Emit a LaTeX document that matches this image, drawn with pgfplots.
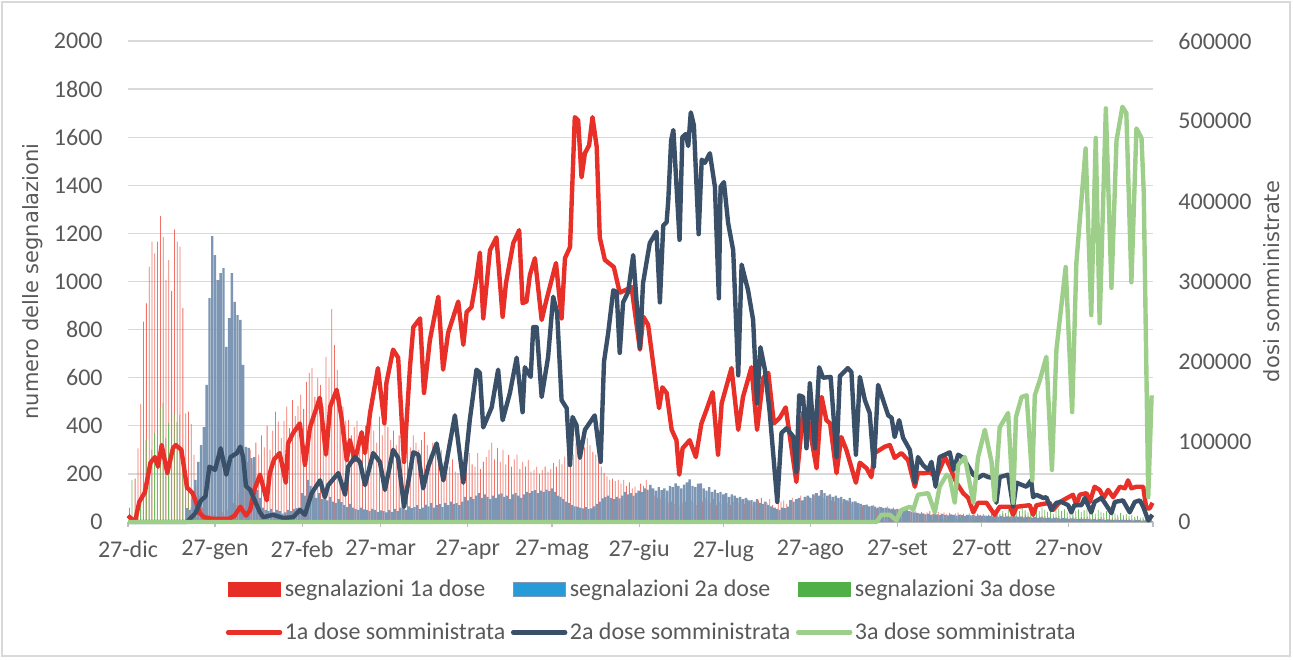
\documentclass[border=0pt]{standalone}
\usepackage{fontspec}
\setmainfont{Carlito}
\newfontfamily\labfont{DejaVu Sans}
\usepackage{pgfplots}
\usepackage{pgfplotstable}
\pgfplotsset{compat=1.18}

\definecolor{txt}{RGB}{89,89,89}
\definecolor{gridc}{RGB}{217,217,217}
\definecolor{axc}{RGB}{191,191,191}
\definecolor{lred}{RGB}{232,48,40}
\definecolor{lnavy}{RGB}{58,80,104}
\definecolor{lgreen}{RGB}{157,207,138}
\definecolor{bred}{RGB}{240,112,102}
\definecolor{bblue}{RGB}{124,150,180}
\definecolor{bgreen}{RGB}{112,186,96}
\definecolor{legred}{RGB}{230,45,38}
\definecolor{legblue}{RGB}{38,155,215}
\definecolor{leggreen}{RGB}{80,175,70}

% segnalazioni giornaliere: d = giorni dal 27-dic
\pgfplotstableread{
d r b g
0 250 0 0
1 60 0 175
2 20 0 40
3 180 0 0
4 306 0 100
5 491 0 160
6 833 0 341
7 909 0 250
8 1062 0 300
9 1166 0 370
10 1117 0 300
11 1166 0 474
12 1272 0 495
13 1186 0 350
14 1006 0 412
15 1089 0 330
16 960 0 453
17 1217 0 416
18 1166 0 445
19 1145 0 300
20 889 0 160
21 452 58 120
22 459 50 60
23 407 100 30
24 279 175 20
25 150 250 10
26 110 320 0
27 60 395 0
28 40 570 0
29 30 931 0
30 25 1189 0
31 30 1110 0
32 20 1006 0
33 35 1035 0
34 40 1056 0
35 30 728 0
36 50 848 0
37 60 1035 0
38 80 915 0
39 70 860 0
40 120 840 0
41 160 653 0
42 210 312 0
43 250 308 0
44 300 266 0
45 240 270 0
46 330 133 0
47 280 100 0
48 360 60 0
49 310 50 0
50 400 45 0
51 300 55 0
52 380 40 0
53 459 50 0
54 417 45 0
55 350 35 0
56 420 40 0
57 480 50 0
58 390 45 0
59 507 55 0
60 440 58 0
61 482 60 0
62 530 120 0
63 470 110 0
64 583 175 0
65 620 150 0
66 640 130 0
67 520 100 0
68 599 120 0
69 570 95 0
70 480 100 0
71 687 90 0
72 600 105 0
73 885 85 0
74 736 80 0
75 632 95 0
76 520 83 0
77 480 70 0
78 420 62 0
79 424 75 0
80 360 60 0
81 395 55 0
82 420 50 0
83 340 60 0
84 374 52 0
85 400 50 0
86 350 45 0
87 420 55 0
88 380 50 0
89 330 42 0
90 438 48 0
91 360 45 0
92 400 40 0
93 395 50 0
94 340 42 0
95 380 55 0
96 320 45 0
97 360 60 0
98 300 62 0
99 341 50 0
100 380 65 0
101 310 58 0
102 360 62 0
103 330 70 0
104 300 55 0
105 340 60 0
106 374 72 0
107 320 65 0
108 280 80 0
109 330 60 0
110 313 70 0
111 270 75 0
112 300 62 0
113 250 80 0
114 280 70 0
115 230 85 0
116 260 75 0
117 210 78 0
118 204 70 0
119 250 85 0
120 220 104 0
121 260 90 0
122 286 105 0
123 240 95 0
124 230 110 0
125 286 120 0
126 220 100 0
127 251 115 0
128 270 105 0
129 300 95 0
130 330 110 0
131 260 100 0
132 308 115 0
133 250 119 0
134 300 105 0
135 240 110 0
136 279 95 0
137 230 115 0
138 260 120 0
139 280 110 0
140 220 100 0
141 250 115 0
142 230 125 0
143 258 120 0
144 210 128 0
145 216 133 0
146 230 120 0
147 200 130 0
148 216 125 0
149 230 135 0
150 210 128 0
151 220 140 0
152 245 125 0
153 230 110 0
154 260 105 0
155 240 95 0
156 272 85 0
157 290 80 0
158 313 71 0
159 280 65 0
160 328 64 0
161 300 60 0
162 340 57 0
163 310 62 0
164 349 55 0
165 320 57 0
166 292 65 0
167 280 75 0
168 250 85 0
169 230 98 0
170 204 105 0
171 190 110 0
172 175 100 0
173 180 95 0
174 170 105 0
175 175 98 0
176 160 110 0
177 175 125 0
178 150 115 0
179 165 120 0
180 140 110 0
181 147 120 0
182 130 130 0
183 160 125 0
184 150 140 0
185 175 135 0
186 130 154 0
187 120 140 0
188 110 130 0
189 100 145 0
190 95 133 0
191 90 140 0
192 100 130 0
193 80 150 0
194 85 145 0
195 75 161 0
196 90 150 0
197 70 140 0
198 80 155 0
199 85 165 0
200 75 177 0
201 90 150 0
202 80 145 0
203 70 160 0
204 95 161 0
205 85 140 0
206 100 130 0
207 90 145 0
208 80 125 0
209 95 135 0
210 70 120 0
211 85 125 0
212 75 115 0
213 90 120 0
214 80 105 0
215 70 115 0
216 85 110 0
217 60 100 0
218 80 105 0
219 90 95 0
220 75 100 0
221 95 90 0
222 85 91 0
223 70 85 0
224 80 95 0
225 90 80 0
226 100 75 0
227 85 85 0
228 80 71 0
229 95 65 0
230 70 60 0
231 60 55 0
232 80 50 0
233 85 60 0
234 90 58 0
235 75 64 0
236 91 91 0
237 100 85 0
238 85 95 0
239 95 100 0
240 110 90 0
241 90 105 0
242 100 110 0
243 105 100 0
244 85 115 0
245 110 120 0
246 120 110 0
247 133 133 0
248 100 120 0
249 95 110 0
250 110 115 0
251 90 105 0
252 85 110 0
253 100 100 0
254 95 105 0
255 80 95 0
256 90 90 0
257 85 100 0
258 75 85 0
259 80 86 0
260 70 80 0
261 75 75 0
262 65 70 0
263 70 72 0
264 60 65 0
265 65 68 0
266 70 64 0
267 55 60 0
268 65 62 0
269 60 58 0
270 55 60 0
271 65 57 0
272 50 55 0
273 60 52 0
274 55 55 0
275 50 50 0
276 45 52 0
277 55 50 0
278 50 45 0
279 45 42 0
280 40 40 0
281 45 38 0
282 38 35 0
283 42 36 0
284 35 32 0
285 40 35 5
286 45 30 8
287 35 34 6
288 38 32 10
289 42 29 8
290 36 33 12
291 40 30 10
292 34 28 14
293 38 32 9
294 30 30 15
295 36 27 12
296 40 31 18
297 32 29 14
298 35 26 20
299 30 30 16
300 36 28 22
301 28 29 15
302 32 26 25
303 35 28 20
304 30 25 28
305 34 27 22
306 28 24 30
307 30 26 35
308 26 23 25
309 32 25 40
310 30 22 32
311 28 24 45
312 34 21 38
313 30 23 50
314 26 22 42
315 28 20 30
316 30 23 55
317 25 21 45
318 28 22 58
319 24 19 48
320 30 21 40
321 26 20 52
322 22 18 30
323 28 20 55
324 25 17 45
325 22 19 58
326 26 18 50
327 24 16 42
328 20 18 55
329 25 15 35
330 22 17 48
331 20 16 56
332 24 14 45
333 18 16 52
334 22 15 40
335 20 13 50
336 18 15 38
337 22 14 45
338 20 12 52
339 16 14 42
340 20 13 48
341 18 12 55
342 22 13 40
343 16 11 46
344 20 12 35
345 18 10 50
346 15 12 42
347 20 11 38
348 17 9 45
349 15 11 32
350 18 10 40
351 16 9 36
352 14 10 30
353 18 8 38
354 15 10 28
355 13 9 33
356 16 8 25
357 14 9 30
358 12 7 22
359 15 8 26
360 12 8 18
361 10 6 20
362 12 7 15
363 8 5 10
364 10 6 12
365 5 3 5
}\bars

\pgfplotsset{
  base/.style={scale only axis, width=512.5pt, height=240.5pt,
    xmin=0, xmax=365, font=\fontsize{12}{14}\selectfont,
    axis line style={-}, tick align=outside, major tick length=2.5pt,
    /pgf/number format/assume math mode=true,
    /pgf/number format/set thousands separator={},
    ytick style={draw=none}, y axis line style={draw=none},
    every axis plot/.append style={line join=round}},
  linelegend/.style={legend image code/.code={\draw[##1, line cap=round] (0pt,0pt) -- (26pt,0pt);}},
  barlegred/.style={legend image code/.code={\fill[legred] (0pt,-3.5pt) rectangle (26pt,3.5pt);}},
  barlegblue/.style={legend image code/.code={\filldraw[fill=legblue, draw=bblue, line width=0.6pt] (0pt,-3.5pt) rectangle (26pt,3.5pt);}},
  barleggreen/.style={legend image code/.code={\fill[leggreen] (0pt,-3.5pt) rectangle (26pt,3.5pt);}},
}

\begin{document}
\begin{tikzpicture}
\useasboundingbox (-64pt,-68.5pt) rectangle (582.5pt,261pt);

% barre: segnalazioni (asse sinistro)
\begin{axis}[base, ymin=0, ymax=2000, ytick={0,200,...,2000},
  axis x line*=bottom, axis y line*=left,
  ymajorgrids, grid style={gridc, line width=0.6pt},
  xtick={0,31,62,90,121,151,182,212,243,274,304,335,365},
  xticklabels={27-dic,27-gen,27-feb,27-mar,27-apr,27-mag,27-giu,27-lug,27-ago,27-set,27-ott,27-nov,},
  xtick style={axc, line width=0.6pt},
  x axis line style={axc, line width=0.6pt},
  xticklabel style={inner sep=0pt, yshift=-6.5pt, text=txt},
  yticklabel style={inner sep=0pt, xshift=-10pt, text=txt},
  ylabel={numero delle segnalazioni},
  ylabel style={font=\labfont\fontsize{10.5}{12}\selectfont, text=txt,
    at={(axis description cs:-0.0927,0.5)}, anchor=center}]
\addplot[ybar, bar width=0.28, bar shift=-0.46, fill=bred, draw=none] table[x=d, y=r] {\bars};
\addplot[ybar, bar width=0.28, bar shift=0.46, fill=bgreen, draw=none] table[x=d, y=g] {\bars};
\addplot[ybar, bar width=0.84, bar shift=0, fill=bblue, draw=none] table[x=d, y=b] {\bars};
\end{axis}

% linee: dosi somministrate (asse destro, migliaia)
\begin{axis}[base, ymin=0, ymax=600, clip=false,
  axis y line*=right, axis x line=none,
  ytick={0,100,...,600},
  yticklabels={0,100000,200000,300000,400000,500000,600000},
  yticklabel style={inner sep=0pt, xshift=10pt, text=txt},
  ylabel={dosi somministrate},
  ylabel style={font=\labfont\fontsize{10.5}{12}\selectfont, text=txt,
    at={(axis description cs:1.116,0.5)}, anchor=center},
  legend columns=3, legend cell align=left,
  legend style={at={(0.5112,-0.185)}, anchor=center, draw=none, fill=none,
    font=\fontsize{12}{14}\selectfont, text=txt,
    nodes={inner xsep=1.25pt, inner ysep=0pt},
    /tikz/every even column/.append style={column sep=1.5pt},
    row sep=11.5pt}]
\addlegendimage{barlegred}
\addlegendimage{barlegblue}
\addlegendimage{barleggreen}
\addplot[lred, line width=2.2pt, linelegend]
  coordinates {(0,8)(2.5,0)(4,25)(6,37)(8,74)(9.6,81)(10.7,69)(12,96)(14,61)(16,92)(17,96)(19,90)(21,43)(23,36)(24,27)(25.6,11)(27,6)(30,4)(33,4)(36,4)(38,8)(40,19)(42,8)(43.5,15)(45,40)(47,59)(49.4,27)(50.5,61)(52,78)(54,86)(56.2,49)(57,98)(58.8,111)(61.2,123)(63,71)(64.8,118)(68.3,155)(70.5,84)(72,144)(74.3,165)(76,131)(77.9,77)(79,102)(80.8,77)(83.2,112)(84.4,86)(86.2,136)(89,192)(91.3,123)(92,173)(94.4,215)(96.2,205)(98.3,75)(100.4,193)(101.6,243)(104,254)(105.4,161)(107.5,227)(110.5,281)(112.2,190)(114,236)(117.6,275)(119.4,221)(120.6,262)(122.3,268)(124,302)(125.3,336)(126.5,254)(128.9,339)(131.2,355)(133.4,256)(134.6,298)(137.2,348)(139.3,364)(140.5,273)(141.9,275)(143.1,308)(144.9,329)(147.3,252)(149,277)(152.4,323)(154.4,254)(155.6,329)(157.4,343)(159.1,505)(160.3,501)(161.5,430)(162.7,460)(164.2,470)(165.4,505)(166.9,468)(168,355)(169.8,327)(173,318)(175.1,286)(176.9,289)(179.3,293)(182.3,215)(183.5,256)(185.2,246)(189.1,142)(190.3,168)(191.8,161)(193.6,115)(195.3,102)(196.3,59)(197.5,92)(200,102)(202.2,81)(204.2,123)(206,140)(208.2,162)(210.1,84)(211.4,148)(214.9,192)(217.3,115)(219,156)(222,193)(224,115)(226.2,180)(228,186)(230,123)(232.1,130)(234.2,143)(238,50)(240.4,137)(242.2,127)(245.2,67)(247,156)(248.7,127)(250,123)(252.3,61)(254,106)(255.8,90)(259.2,49)(260.6,74)(263,67)(264.7,56)(265.9,86)(269.5,94)(271.3,96)(273,80)(275.4,86)(277.8,77)(280.2,44)(281.3,61)(283.7,61)(285.5,62)(287.9,56)(290.9,81)(292.6,69)(295,49)(297.4,36)(299.2,30)(301,12)(302.7,24)(305.7,24)(308.6,9)(310.4,19)(314,19)(315.2,9)(316.4,19)(321.1,21)(322.3,9)(323.5,21)(328.2,24)(329.4,15)(331.8,25)(336.5,34)(337.7,21)(338.9,34)(341.3,36)(342.5,25)(344.2,44)(346,40)(347.5,30)(349,40)(350.8,31)(353.2,44)(355,42)(356.1,52)(357.3,42)(359.1,44)(361.5,44)(362.6,17)(363.8,17)(364.8,24)};
\addplot[lnavy, line width=2.2pt, linelegend]
  coordinates {(0,0)(21,0)(24,11)(26,27)(27.6,32)(29,69)(31,65)(33,92)(35,59)(36.5,81)(38.8,86)(40,94)(41,81)(42,45)(43.5,40)(45,28)(47,12)(48.2,6)(51.7,9)(55.3,5)(58.8,6)(61.2,15)(63,9)(65.4,36)(68.4,52)(70.1,31)(71.3,46)(74.9,61)(77.3,34)(78.4,69)(80.8,81)(82.6,75)(84.4,46)(87.3,86)(89.7,75)(91.5,40)(94.4,90)(96.2,80)(98.3,19)(101.6,87)(103.4,84)(105.1,42)(106.9,69)(109.9,98)(112.3,52)(114.6,98)(116.4,133)(119.4,49)(121.7,127)(124.1,190)(125.3,186)(126.5,118)(129.5,143)(131.8,190)(133.4,127)(136,161)(138.4,205)(140.5,137)(141.3,193)(143.4,181)(144.3,243)(145.5,243)(147.3,156)(149.6,206)(151.4,281)(152.8,261)(154.4,152)(156.2,142)(157.4,71)(158.3,131)(159.7,121)(160.9,80)(162.7,115)(166.2,133)(168.3,75)(169.5,200)(171,236)(172.8,289)(174,287)(175.1,211)(176.3,274)(178.1,287)(179.9,333)(182.3,217)(183.4,298)(185.8,348)(188.2,362)(189.4,274)(190.6,370)(191.8,374)(192.4,402)(193.4,476)(194.2,489)(196.4,352)(197.4,480)(198.6,484)(199.5,469)(200.4,511)(201.5,495)(203.2,359)(204.3,452)(205.4,448)(207.2,460)(209,418)(210.4,279)(211,418)(212.2,424)(213.7,373)(215.5,339)(217.3,183)(218.5,321)(220.8,289)(222.6,252)(224,148)(225.2,218)(226.8,190)(228.5,137)(231.2,25)(232.7,111)(234.5,117)(237,106)(238,62)(239,158)(240.4,156)(241.6,92)(242.8,173)(244.6,92)(246.1,193)(247.5,180)(250.2,181)(252.3,81)(253.5,182)(256.3,192)(257.6,187)(259.2,84)(260.6,181)(262.4,152)(264.1,136)(265.6,69)(267.1,171)(268.9,152)(270.7,133)(271.9,130)(273,106)(274.6,127)(276,105)(278.4,90)(280.2,49)(281.3,81)(283.1,71)(284.9,65)(286.1,75)(287.6,44)(289,81)(290.9,84)(292.6,87)(294,65)(295.6,84)(297.4,80)(301,59)(302.7,55)(304.5,59)(306.3,56)(308,55)(309.2,24)(310.4,56)(313.4,59)(315.2,19)(316.4,49)(319.9,44)(321.6,52)(322.3,31)(323.5,34)(325.9,30)(327,31)(328.8,15)(330.6,24)(332.4,25)(334.8,21)(335.9,12)(337,21)(339.5,21)(340.7,30)(343,12)(344.2,25)(346.6,30)(347.8,24)(350.2,11)(351.4,25)(354.3,27)(356.7,12)(358.5,25)(360.3,27)(361.5,19)(363.3,2)(364.8,9)};
\addplot[lgreen, line width=2.2pt, linelegend]
  coordinates {(0,0)(266.5,0)(268.3,9)(271.3,9)(273.6,2)(275.4,15)(278.4,19)(279.6,15)(281.3,34)(284.9,36)(287.3,12)(289,44)(291.5,59)(292.6,56)(294.4,24)(295.6,71)(298,81)(301,24)(302.7,81)(305.1,115)(307.5,75)(308.6,27)(310.4,118)(313.4,136)(315.2,24)(316.2,131)(318.2,156)(320,158)(322,52)(322.9,158)(324.7,177)(327,206)(329,65)(330.6,215)(333.9,318)(336.2,137)(337.7,323)(341,466)(343,258)(344.6,479)(346,248)(348.2,516)(350.2,292)(352,476)(354.1,518)(355.5,510)(357.3,299)(359.1,491)(360.9,479)(361.7,411)(363.3,31)(364.5,158)};
\legend{segnalazioni 1a dose,segnalazioni 2a dose,segnalazioni 3a dose,1a dose somministrata,2a dose somministrata,3a dose somministrata}
\end{axis}

\draw[gridc, line width=0.6pt] (-63pt,-67pt) rectangle (581pt,260pt);
\end{tikzpicture}
\end{document}
